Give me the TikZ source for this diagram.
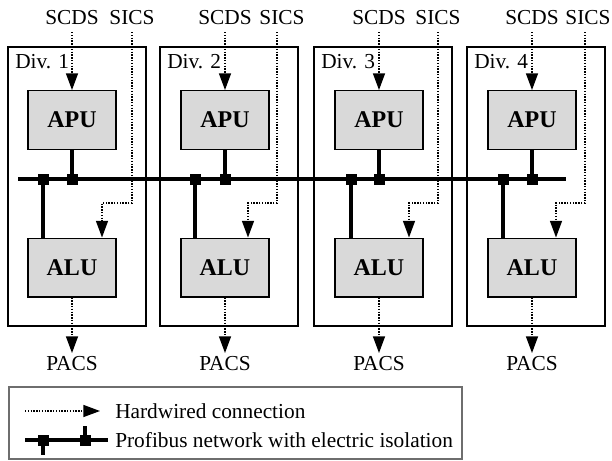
\documentclass[tikz,border=0pt]{standalone}
\usepackage{fontspec}
\setmainfont{Liberation Serif}
\usetikzlibrary{arrows.meta}
\definecolor{unitfill}{RGB}{217,217,217}
\definecolor{legendframe}{RGB}{110,110,110}
\begin{document}
\begin{tikzpicture}[x=0.75pt,y=-0.75pt,
  lbl/.style={font=\fontsize{16}{19}\selectfont, inner sep=0pt},
  divbox/.style={draw, line width=0.8pt, minimum width=103.5pt, minimum height=209.25pt, inner sep=0pt},
  unit/.style={draw, line width=1pt, fill=unitfill, minimum width=66pt, minimum height=44pt,
    inner sep=0pt, font=\fontsize{18}{21}\selectfont\bfseries},
  wire/.style={line width=1.1pt, densely dotted, -{Triangle[length=12.5pt,width=9pt]}},
  bus/.style={line width=3pt},
  tap/.style={fill=black, minimum size=8.25pt, inner sep=0pt}]
\useasboundingbox (0,0) rectangle (612,461);

% one division per entry: index / box left / unit centre / SICS line / SICS jog / SICS label / bus tap
\foreach \i/\L/\C/\S/\J/\SL/\T in {1/8/72/132/102/132/43, 2/160/225/277/248/282/195,
                                   3/314/379/438/409/438/351, 4/467/532/585/556/588/503} {
  \node[divbox] (div\i) at ({\L+69},186.5) {};
  \node[lbl, anchor=west] (divlbl\i) at ({\L+7},62) {Div. \i};
  \node[unit] (apu\i) at (\C,120) {APU};
  \node[unit] (alu\i) at (\C,267.5) {ALU};
  % bus taps for the APU and the ALU
  \node[tap] (tapu\i) at (\C,179) {};
  \node[tap] (tapl\i) at (\T,179) {};
  % input signals
  \node[lbl] (scds\i) at (\C,18) {SCDS};
  \node[lbl] (sics\i) at (\SL,18) {SICS};
  \coordinate (scdstop\i) at (\C,32);
  \coordinate (sicstop\i) at (\S,32);
  \coordinate (jog\i) at (\J,203);
  \draw[wire] (scdstop\i) -- (apu\i.north);
  \draw[wire] (sicstop\i) |- (jog\i) -- (jog\i |- alu\i.north);
  % output signal
  \node[lbl] (pacs\i) at (\C,364) {PACS};
  \coordinate (pacstip\i) at (\C,353);
  \draw[wire] (alu\i.south) -- (pacstip\i);
}

% Profibus line
\coordinate (busW) at (18,179);
\coordinate (busE) at (566,179);
\draw[bus] (busW) -- (busE);
\foreach \i in {1,...,4} {
  \draw[bus] (apu\i.south) -- (tapu\i.center);
  \draw[bus] (tapl\i.center) -- (tapl\i |- alu\i.north);
  \node[tap] at (tapu\i) {};
  \node[tap] at (tapl\i) {};
}

% legend
\node[draw=legendframe, line width=0.8pt, minimum width=339.75pt, minimum height=54pt, inner sep=0pt]
  (legend) at (235.5,423) {};
\coordinate (lgwA) at (25,411);
\coordinate (lgwB) at (100,411);
\draw[wire] (lgwA) -- (lgwB);
\node[lbl, anchor=west] (lgtxt1) at (115,411) {Hardwired connection};
\coordinate (lgbA) at (25,440);
\coordinate (lgbB) at (108,440);
\node[tap] (lgtap1) at (43,440) {};
\node[tap] (lgtap2) at (85,440) {};
\coordinate (lgstub1) at (43,455);
\coordinate (lgstub2) at (85,426);
\draw[bus] (lgbA) -- (lgbB);
\draw[bus] (lgtap1.center) -- (lgstub1);
\draw[bus] (lgtap2.center) -- (lgstub2);
\node[lbl, anchor=west] (lgtxt2) at (115,440) {Profibus network with electric isolation};
\end{tikzpicture}
\end{document}
